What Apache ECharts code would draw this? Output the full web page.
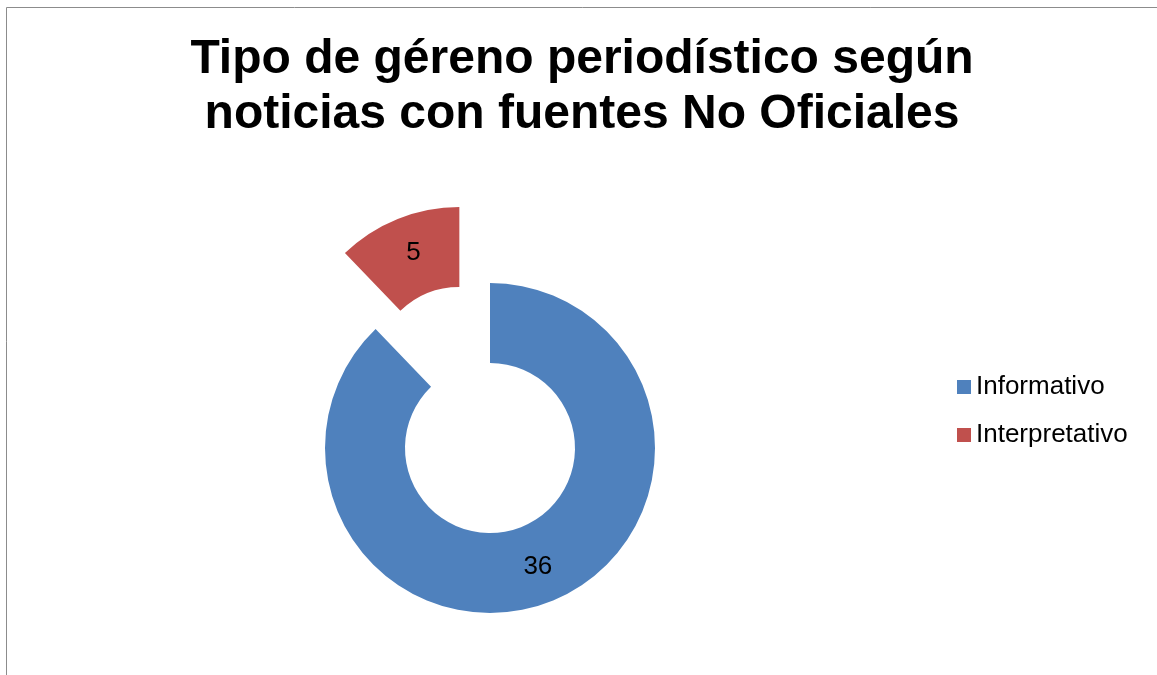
<!DOCTYPE html>
<html>
<head>
<meta charset="utf-8">
<script src="https://cdn.jsdelivr.net/npm/echarts@6/dist/echarts.min.js"></script>
<style>
html,body{margin:0;padding:0;background:#fff;}
#c{width:1157px;height:675px;}
</style>
</head>
<body>
<div id="c"></div>
<script>
const titleText = 'Tipo de géreno periodístico según\nnoticias con fuentes No Oficiales';
const categories = ['Informativo', 'Interpretativo'];
const values = [36, 5];
const colors = ['#4F81BD', '#C0504D'];
const FONT = "'Liberation Sans', Arial, sans-serif";

const chart = echarts.init(document.getElementById('c'));
chart.setOption({
  animation: false,
  backgroundColor: '#ffffff',
  graphic: [{
    type: 'polyline',
    shape: { points: [[6.5, 700], [6.5, 7.5], [1200, 7.5]] },
    style: { stroke: '#8c8c8c', lineWidth: 1, fill: null }
  }],
  title: {
    text: titleText,
    left: 582,
    textAlign: 'center',
    top: 32,
    padding: 0,
    textStyle: {
      fontFamily: FONT,
      fontSize: 48,
      fontWeight: 'bold',
      color: '#000',
      lineHeight: 55
    }
  },
  legend: {
    orient: 'vertical',
    left: 957,
    top: 374,
    padding: 0,
    itemWidth: 14,
    itemHeight: 14,
    itemGap: 22,
    icon: 'rect',
    textStyle: {
      fontFamily: FONT,
      fontSize: 26,
      lineHeight: 26,
      color: '#000'
    },
    data: categories
  },
  series: [{
    type: 'pie',
    center: [490, 448],
    radius: [85, 165],
    startAngle: 90,
    clockwise: true,
    selectedMode: 'multiple',
    selectedOffset: 82,
    avoidLabelOverlap: false,
    label: {
      show: true,
      position: 'inside',
      formatter: '{c}',
      fontFamily: FONT,
      fontSize: 26,
      color: '#000'
    },
    labelLine: { show: false },
    emphasis: { disabled: true },
    data: categories.map((n, i) => ({
      name: n,
      value: values[i],
      selected: i === 1,
      label: i === 1 ? { padding: [12, 0, 0, 4] } : {},
      itemStyle: { color: colors[i] }
    }))
  }]
});
</script>
</body>
</html>
